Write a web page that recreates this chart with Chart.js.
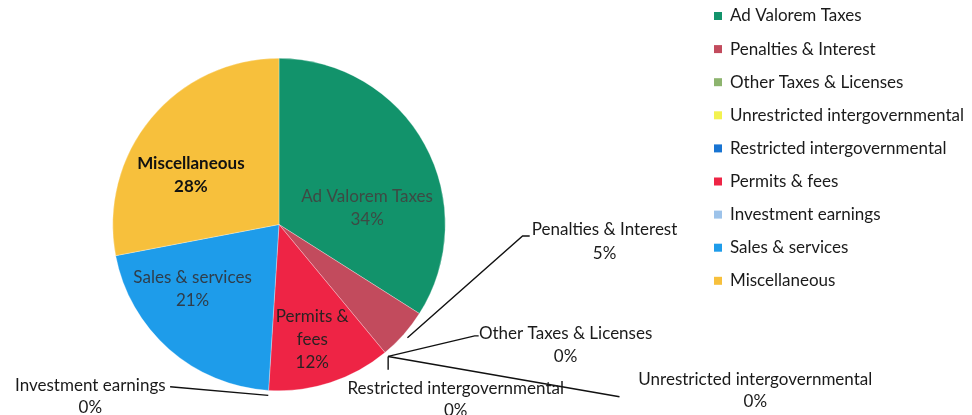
<!DOCTYPE html>
<html>
<head>
<meta charset="utf-8">
<script src="https://cdn.jsdelivr.net/npm/chart.js@4"></script>
<style>
html,body{margin:0;padding:0;background:#fff;}
#wrap{width:972px;height:415px;position:relative;}
</style>
</head>
<body>
<div id="wrap"><canvas id="revenue"></canvas></div>
<script>
var categories=['Ad Valorem Taxes','Penalties & Interest','Other Taxes & Licenses','Unrestricted intergovernmental',
                'Restricted intergovernmental','Permits & fees','Investment earnings','Sales & services','Miscellaneous'];
var shares=[34,5,0,0,0,12,0,21,28];
var sliceColors=['#12936b','#c24b5d','#8db46e','#f3f24f','#1874d2','#ee2445','#9dc3ea','#1e9cea','#f7c03c'];

// label placement, in units of the pie radius from the pie centre
var labelLayout=[
    {inside:true,lines:['Ad Valorem Taxes'],at:[0.53,-0.10],color:'#3d4a44'},
    {lines:['Penalties & Interest'],elbow:[1.465,0.069],end:[1.508,0.069],text:[1.958,0.033,0.177]},
    {lines:['Other Taxes & Licenses'],elbow:[1.177,0.670],end:[1.201,0.670],text:[1.724,0.658,0.796]},
    {lines:['Unrestricted intergovernmental'],elbow:[2.048,1.036],text:[2.865,0.934,1.066]},
    {lines:['Restricted intergovernmental'],vertical:0.874,text:[1.063,0.988,1.12]},
    {inside:true,lines:['Permits &','fees'],at:[0.20,0.69],color:'#2b2222'},
    {lines:['Investment earnings'],elbow:[-0.655,0.976],text:[-1.135,0.967,1.099]},
    {inside:true,lines:['Sales & services'],at:[-0.52,0.39],color:'#2f3d4a'},
    {inside:true,lines:['Miscellaneous'],at:[-0.53,-0.30],color:'#111',bold:true}
];
var fontFamily='Lato, "Noto Sans", sans-serif';

var calloutPlugin={
    id:'callouts',
    afterDatasetsDraw:function(chart){
        var ctx=chart.ctx, meta=chart.getDatasetMeta(0), values=chart.data.datasets[0].data;
        ctx.save();
        ctx.textAlign='center';
        ctx.textBaseline='middle';
        meta.data.forEach(function(arc,i){
            var p=arc.getProps(['x','y','startAngle','endAngle','outerRadius'],true),
                r=p.outerRadius, lay=labelLayout[i], mid=(p.startAngle+p.endAngle)/2,
                lines=lay.lines.concat([values[i]+'%']);
            ctx.font=(lay.bold?'bold ':'')+'17px '+fontFamily;
            if(lay.inside){
                ctx.fillStyle=lay.color;
                var lh=23, y0=p.y+lay.at[1]*r-(lines.length-1)*lh/2;
                lines.forEach(function(t,k){ ctx.fillText(t,p.x+lay.at[0]*r,y0+k*lh); });
                return;
            }
            var ax=p.x+Math.cos(mid)*r*1.03, ay=p.y+Math.sin(mid)*r*1.03;
            ctx.strokeStyle='#111';
            ctx.lineWidth=1.4;
            ctx.beginPath();
            ctx.moveTo(ax,ay);
            if(lay.vertical!==undefined){
                ctx.lineTo(ax,p.y+lay.vertical*r);
            }else{
                ctx.lineTo(p.x+lay.elbow[0]*r,p.y+lay.elbow[1]*r);
                if(lay.end) ctx.lineTo(p.x+lay.end[0]*r,p.y+lay.end[1]*r);
            }
            ctx.stroke();
            ctx.fillStyle='#1a1a1a';
            ctx.fillText(lines[0],p.x+lay.text[0]*r,p.y+lay.text[1]*r);
            ctx.fillText(lines[1],p.x+lay.text[0]*r,p.y+lay.text[2]*r);
        });
        ctx.restore();
    }
};

var sideLegend={
    id:'sideLegend',
    afterDraw:function(chart){
        var ctx=chart.ctx, ds=chart.data.datasets[0];
        ctx.save();
        ctx.font='17px '+fontFamily;
        ctx.textAlign='left';
        ctx.textBaseline='middle';
        chart.data.labels.forEach(function(lbl,i){
            var y=16+i*33.1;
            ctx.fillStyle=ds.backgroundColor[i];
            ctx.fillRect(714,y-4,8,8);
            ctx.fillStyle='#1a1a1a';
            ctx.fillText(lbl,730,y);
        });
        ctx.restore();
    }
};

new Chart(document.getElementById('revenue'),{
    type:'pie',
    data:{
        labels:categories,
        datasets:[{
            data:shares,
            backgroundColor:sliceColors,
            borderColor:'rgba(255,255,255,0.6)',
            borderWidth:0.5
        }]
    },
    options:{
        responsive:true,
        maintainAspectRatio:false,
        animation:false,
        layout:{padding:{left:112,right:526,top:58,bottom:24}},
        plugins:{legend:{display:false},tooltip:{enabled:false}}
    },
    plugins:[calloutPlugin,sideLegend]
});
</script>
</body>
</html>
